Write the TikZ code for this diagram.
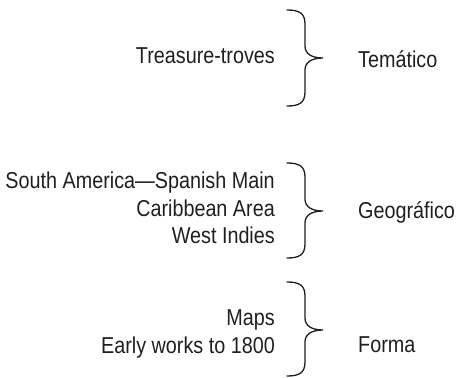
\documentclass[tikz,border=0pt]{standalone}
\usepackage{fontspec}
\setmainfont{Liberation Sans}[FakeStretch=0.86]
\begin{document}
\begin{tikzpicture}[x=1pt,y=-1pt,
  lbl/.style={font=\fontsize{23}{27.5}\selectfont, inner sep=0pt, text=black!88},
  left/.style={lbl, anchor=east, align=right},
  brace/.style={line width=1.3pt, line cap=round, draw=black!88}]
\useasboundingbox (0,0) rectangle (456,378);
\newcommand\mybrace[3]{% top, mid, bottom
  \draw[brace] (287,#1) .. controls (299,#1) and (305,#1+3) .. (305,#1+14)
    -- (305,#2-12) .. controls (305,#2-4) and (312,#2) .. (323,#2)
    .. controls (312,#2) and (305,#2+4) .. (305,#2+12)
    -- (305,#3-14) .. controls (305,#3-3) and (299,#3) .. (287,#3);}
\mybrace{10}{58}{106}
\mybrace{163}{211}{258}
\mybrace{282}{330}{376}
\node[left] (t1) at (275,56) {Treasure-troves};
\node[lbl, anchor=west] (c1) at (358,59) {Temático};
\node[left] (t2) at (275,208) {South America—Spanish Main\\Caribbean Area\\West Indies};
\node[lbl, anchor=west] (c2) at (358,212) {Geográfico};
\node[left] (t3) at (275,334) {Maps\\Early works to 1800};
\node[lbl, anchor=west] (c3) at (358,345) {Forma};
\end{tikzpicture}
\end{document}
